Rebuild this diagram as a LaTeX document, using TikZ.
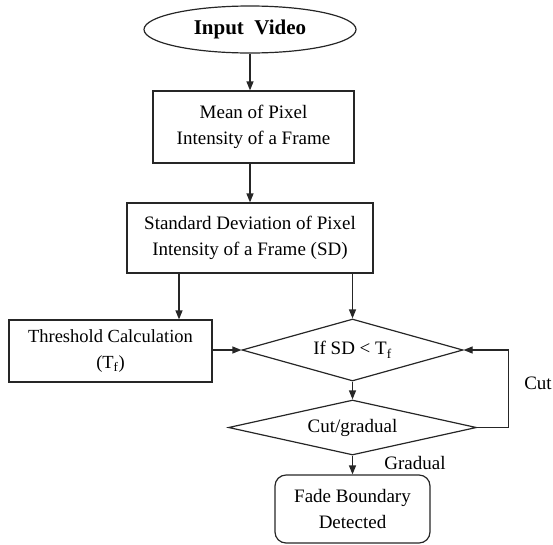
\documentclass[tikz,border=0pt]{standalone}
\usepackage{fontspec}
\setmainfont{Liberation Serif}
\usetikzlibrary{shapes.geometric,arrows.meta}
\begin{document}
\begin{tikzpicture}[x=1pt,y=-1pt,
  every node/.style={font=\fontsize{19}{26}\selectfont, align=center, inner sep=0pt},
  procbox/.style={draw=black!85, line width=1.2pt, rectangle},
  decbox/.style={draw=black!85, line width=1.2pt, diamond},
  arr/.style={draw=black!85, line width=1.2pt, -{Triangle[length=9pt,width=7pt]}},
  lnk/.style={draw=black!85, line width=1.2pt}]
\useasboundingbox (0,0) rectangle (553,544);
\node[draw=black!85, line width=1.2pt, ellipse, minimum width=212pt, minimum height=47pt,
  font=\fontsize{21}{26}\selectfont\bfseries] (vid) at (250,29.5) {Input\ \ Video};
\node[procbox, minimum width=201pt, minimum height=72pt] (box1) at (253.5,127) {Mean of Pixel\\Intensity of a Frame};
\node[procbox, minimum width=246pt, minimum height=70pt] (box2) at (250,238) {Standard Deviation of Pixel\\Intensity of a Frame (SD)};
\node[procbox, minimum width=203pt, minimum height=62pt, font=\fontsize{18.5}{26}\selectfont] (thr) at (110.5,351) {Threshold Calculation\\(T\textsubscript{f})};
\node[decbox, aspect=3.56, minimum width=221pt, minimum height=62pt] (d1) at (352.5,350) {If SD < T\textsubscript{f}};
\node[decbox, aspect=4.5, minimum width=248pt, minimum height=55pt] (d2) at (352.5,427.5) {Cut/gradual};
\node[procbox, rounded corners=11pt, minimum width=155pt, minimum height=68pt] (fade) at (352.5,509) {Fade Boundary\\Detected};
\node (cut) at (538,383) {Cut};
\node (grad) at (415,463) {Gradual};
\draw[arr] (vid.south) -- (vid.south |- box1.north);
\draw[arr] (vid.south |- box1.south) -- (vid.south |- box2.north);
\draw[arr] ([xshift=-71pt]box2.south) -- ([xshift=-71pt]box2.south |- thr.north);
\draw[arr] (d1.north |- box2.south) -- (d1.north);
\draw[arr] (thr.east |- d1.west) -- (d1.west);
\draw[arr] (d1.south) -- (d2.north);
\draw[arr] (d2.east) -- ++(31,0) |- (d1.east);
\draw[arr] (d2.south) -- (fade.north);
\end{tikzpicture}
\end{document}
